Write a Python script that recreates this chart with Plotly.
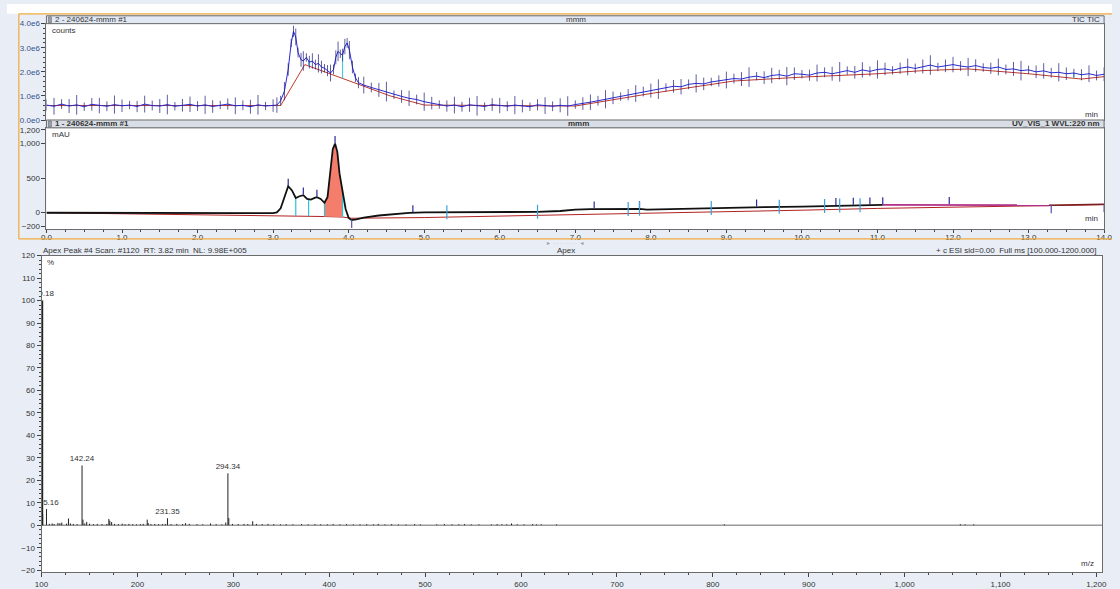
import numpy as np
import plotly.graph_objects as go

# ---------------- TIC trace (counts, x1e6) ----------------
tic_times_a = [round(0.1 * i, 2) for i in range(31)]            # 0.0 .. 3.0
tic_vals_a = [0.62, 0.57, 0.66, 0.58, 0.63, 0.55, 0.65, 0.60, 0.57, 0.64, 0.59,
              0.62, 0.56, 0.66, 0.60, 0.58, 0.64, 0.57, 0.61, 0.65, 0.58, 0.63,
              0.56, 0.62, 0.66, 0.59, 0.61, 0.55, 0.63, 0.58, 0.60]
tic_times_b = [3.05, 3.10, 3.15, 3.20, 3.24, 3.27, 3.30, 3.33, 3.37, 3.40, 3.44,
               3.48, 3.52, 3.56, 3.60, 3.64, 3.68, 3.72, 3.76, 3.80, 3.83, 3.86,
               3.89, 3.92, 3.95, 3.98, 4.01, 4.05, 4.09, 4.13]
tic_vals_b = [0.62, 0.80, 1.20, 2.10, 3.20, 3.68, 3.45, 2.80, 2.50, 2.45, 2.60,
              2.40, 2.45, 2.30, 2.35, 2.20, 2.15, 2.05, 1.95, 2.10, 2.60, 2.85,
              2.75, 2.70, 3.05, 3.20, 2.90, 2.20, 1.75, 1.55]
tic_times_c = [round(4.2 + 0.1 * i, 2) for i in range(99)]       # 4.2 .. 14.0
tic_vals_c = [1.45, 1.35, 1.25, 1.18, 1.05, 0.98, 0.90, 0.85, 0.76,
              0.70, 0.64, 0.58, 0.62, 0.55, 0.63, 0.59, 0.56, 0.64, 0.60,
              0.57, 0.62, 0.58, 0.55, 0.63, 0.60, 0.57, 0.61, 0.58, 0.64,
              0.68, 0.74, 0.80, 0.86, 0.92, 0.97, 1.05, 1.10, 1.18, 1.22,
              1.28, 1.35, 1.40, 1.38, 1.48, 1.52, 1.50, 1.58, 1.62, 1.66,
              1.72, 1.70, 1.78, 1.82, 1.76, 1.85, 1.88, 1.82, 1.92, 1.90,
              1.86, 1.95, 1.98, 1.92, 2.00, 2.05, 1.98, 2.08, 2.02, 2.10,
              2.12, 2.06, 2.15, 2.20, 2.14, 2.22, 2.28, 2.20, 2.25, 2.30,
              2.24, 2.20, 2.26, 2.18, 2.15, 2.20, 2.10, 2.12, 2.05, 2.08,
              2.00, 2.04, 1.96, 1.98, 1.92, 1.95, 1.88, 1.92, 1.85, 1.90]
tic_base_times = [0.0, 3.1, 3.42, 4.55, 5.0, 7.0, 8.0, 9.1, 10.0, 11.0, 11.6, 12.2, 13.0, 13.7, 14.0]
tic_base_vals = [0.60, 0.60, 2.30, 1.00, 0.62, 0.58, 1.10, 1.62, 1.78, 1.92, 2.05, 2.12, 1.92, 1.70, 1.80]
tic_split_times = [3.47, 3.92, 9.55, 13.6]

# ---------------- UV 220 nm trace (mAU) ----------------
uv_times = [0.0, 1.0, 2.0, 2.9, 3.0, 3.05, 3.1, 3.15, 3.2, 3.25, 3.3, 3.35, 3.4, 3.45,
            3.5, 3.55, 3.58, 3.63, 3.68, 3.72, 3.76, 3.79, 3.82, 3.85, 3.88, 3.92,
            3.96, 4.0, 4.04, 4.1, 4.2, 4.4, 4.6, 4.8, 5.0, 5.5, 6.0, 6.5, 6.8, 7.0,
            7.2, 7.5, 7.85, 7.95, 8.5, 9.0, 9.5, 10.0, 10.5, 11.07]
uv_vals = [-5, -10, -14, -16, -12, 0, 60, 220, 380, 320, 210, 235, 250, 195,
           185, 210, 220, 195, 140, 220, 600, 920, 1000, 880, 560, 270,
           50, -80, -110, -100, -75, -45, -22, -8, 0, 2, 5, 8, 20, 40,
           48, 50, 52, 40, 55, 68, 78, 85, 100, 110]
uv_tail_times = [11.07, 12.0, 13.27]
uv_tail_vals = [110, 112, 104]
uv_end_times = [13.27, 14.0]
uv_end_vals = [104, 118]
uv_base_times = [0, 1, 2, 3, 3.68, 3.92, 4.04, 5, 6, 7, 8, 9, 10, 11, 12, 13, 14]
uv_base_vals = [-5, -18, -32, -48, -60, -68, -85, -75, -55, -32, -12, 8, 32, 58, 76, 95, 112]
uv_split_times = [3.3, 3.47, 3.68, 3.92]
uv_area = (3.68, 3.92)
uv_apex_times = [3.2, 3.4, 3.58, 3.82, 4.85, 7.25, 7.85, 9.4, 10.45, 10.68, 10.9, 11.07, 11.95]
uv_cross_times = [5.3, 6.5, 7.7, 7.85, 8.8, 9.7, 10.3, 10.5, 10.77]
uv_low_times = [4.04, 13.3, 14.0]

# ---------------- Mass spectrum at apex of peak #4 ----------------
ms_mz = [100.18, 101.2, 105.16, 108.1, 111.1, 113.1, 117.1, 119.1, 121.1, 126.1,
         128.1, 130.1, 133.1, 137.1, 142.24, 143.2, 145.1, 147.1, 150.1, 154.1,
         158.1, 163.1, 168.1, 170.2, 171.2, 173.1, 176.1, 180.1, 184.1, 187.1,
         191.1, 195.1, 199.1, 203.1, 206.1, 210.2, 211.2, 214.1, 218.1, 222.1,
         226.1, 229.1, 231.35, 235.1, 241.1, 247.1, 250.2, 254.1, 262.1, 268.1,
         276.2, 282.1, 288.1, 292.1, 294.34, 295.3, 299.1, 305.1, 311.1, 315.1,
         320.2, 324.1, 330.1, 336.1, 342.1, 349.1, 355.1, 362.1, 371.1, 378.1,
         385.1, 391.1, 398.1, 404.1, 411.1, 418.1, 425.1, 432.1, 439.1, 446.1,
         451.1, 458.1, 465.1, 472.1, 480.1, 489.1, 495.1, 512.1, 520.1, 528.1,
         535.1, 541.1, 548.1, 556.1, 569.1, 575.1, 580.1, 585.1, 590.1, 596.1,
         603.1, 612.1, 616.1, 621.1, 637.1, 812.1, 1058.1, 1063.1, 1072.1]
ms_int = [100.0, 5.0, 7.2, 0.6, 0.8, 0.5, 1.0, 0.9, 1.2, 0.7,
          3.0, 0.8, 0.6, 0.5, 26.6, 2.5, 0.8, 1.5, 0.7, 0.5,
          0.6, 0.5, 0.6, 2.8, 2.0, 1.4, 0.6, 0.5, 0.7, 0.5,
          0.6, 0.5, 0.4, 0.5, 0.6, 2.5, 1.0, 0.5, 0.6, 0.5,
          0.5, 0.6, 3.1, 0.5, 0.6, 0.5, 0.9, 0.6, 0.5, 0.4,
          0.8, 0.5, 0.4, 1.2, 23.1, 3.2, 0.6, 0.5, 0.6, 0.5,
          1.8, 0.6, 0.5, 0.6, 0.5, 0.4, 0.5, 0.4, 0.5, 0.4,
          0.5, 0.4, 0.4, 0.5, 0.4, 0.5, 0.4, 0.4, 0.5, 0.4,
          0.6, 0.4, 0.5, 0.4, 0.4, 0.5, 0.4, 0.4, 0.5, 0.4,
          0.4, 0.5, 0.4, 0.4, 0.4, 0.5, 0.4, 0.4, 0.8, 0.4,
          0.4, 0.5, 0.4, 0.4, 0.4, 0.4, 0.5, 0.4, 0.4]
ms_labels = ["100.18", "105.16", "142.24", "231.35", "294.34"]

# ---------------- geometry helpers (pixel -> paper) ----------------
W, H = 1120, 589
def px(x):
    return x / W
def py(y):
    return 1 - y / H

FONT = "Arial"
TXT = "#333333"
BG = "#e9eef6"
ORANGE = "#f0aa3c"
BORDER = "#6b6b6b"

tic_t = tic_times_a + tic_times_b + tic_times_c
tic_v = [v * 1e6 for v in tic_vals_a + tic_vals_b + tic_vals_c]
tic_base = [v * 1e6 for v in tic_base_vals]
# scan-marker lengths cycle through a fixed pattern so the comb looks uneven
tick_pattern = [8, 12, 7, 10, 14, 6, 9, 11, 7, 13, 9, 6]
tic_tick_sizes = [tick_pattern[i % len(tick_pattern)] for i in range(len(tic_t))]

fig = go.Figure()

# ---- TIC panel ----
fig.add_trace(go.Scatter(x=tic_base_times, y=tic_base, mode="lines",
                         line=dict(color="#c0392b", width=1), xaxis="x", yaxis="y",
                         hoverinfo="skip"))
sx, sy = [], []
for t in tic_split_times:
    sx += [t, t, None]
    sy += [np.interp(t, tic_base_times, tic_base), np.interp(t, tic_t, tic_v), None]
fig.add_trace(go.Scatter(x=sx, y=sy, mode="lines", line=dict(color="#30c8d8", width=1),
                         xaxis="x", yaxis="y", hoverinfo="skip"))
fig.add_trace(go.Scatter(x=tic_t, y=tic_v, mode="lines+markers",
                         line=dict(color="#2a2ad6", width=1),
                         marker=dict(symbol="line-ns", size=tic_tick_sizes,
                                     line=dict(color="#1c1c7a", width=1)),
                         xaxis="x", yaxis="y"))

# ---- UV panel ----
fig.add_trace(go.Scatter(x=uv_base_times, y=uv_base_vals, mode="lines",
                         line=dict(color="#b22222", width=1), xaxis="x2", yaxis="y2",
                         hoverinfo="skip"))
# integrated area of the main peak
a0, a1 = uv_area
fine = np.linspace(a0, a1, 60)
area_top = np.interp(fine, uv_times, uv_vals)
area_bot = np.interp(fine, uv_base_times, uv_base_vals)
fig.add_trace(go.Scatter(x=list(fine) + list(fine[::-1]),
                         y=list(area_top) + list(area_bot[::-1]),
                         mode="lines", fill="toself", fillcolor="#f47d6b",
                         line=dict(width=0), xaxis="x2", yaxis="y2", hoverinfo="skip"))
sx, sy = [], []
for t in uv_split_times:
    sx += [t, t, None]
    sy += [np.interp(t, uv_base_times, uv_base_vals), np.interp(t, uv_times, uv_vals), None]
fig.add_trace(go.Scatter(x=sx, y=sy, mode="lines", line=dict(color="#2ec4d4", width=1.2),
                         xaxis="x2", yaxis="y2", hoverinfo="skip"))
fig.add_trace(go.Scatter(x=uv_times, y=uv_vals, mode="lines",
                         line=dict(color="#111111", width=1.8), xaxis="x2", yaxis="y2"))
fig.add_trace(go.Scatter(x=uv_tail_times, y=uv_tail_vals, mode="lines",
                         line=dict(color="#b0308a", width=1.8), xaxis="x2", yaxis="y2"))
fig.add_trace(go.Scatter(x=uv_end_times, y=uv_end_vals, mode="lines",
                         line=dict(color="#7a1f1f", width=1.5), xaxis="x2", yaxis="y2"))

def uv_at(t):
    all_t = uv_times + uv_tail_times[1:] + uv_end_times[1:]
    all_v = uv_vals + uv_tail_vals[1:] + uv_end_vals[1:]
    return float(np.interp(t, all_t, all_v))

fig.add_trace(go.Scatter(x=uv_apex_times, y=[uv_at(t) + 60 for t in uv_apex_times],
                         mode="markers",
                         marker=dict(symbol="line-ns", size=5, line=dict(color="#2a2a9a", width=1.2)),
                         xaxis="x2", yaxis="y2", hoverinfo="skip"))
fig.add_trace(go.Scatter(x=uv_cross_times, y=[uv_at(t) for t in uv_cross_times],
                         mode="markers",
                         marker=dict(symbol="line-ns", size=10, line=dict(color="#3aa0d8", width=1.2)),
                         xaxis="x2", yaxis="y2", hoverinfo="skip"))
fig.add_trace(go.Scatter(x=uv_low_times, y=[uv_at(t) - 55 for t in uv_low_times],
                         mode="markers",
                         marker=dict(symbol="line-ns", size=6, line=dict(color="#5050b0", width=1.2)),
                         xaxis="x2", yaxis="y2", hoverinfo="skip"))

# ---- Mass spectrum panel ----
fig.add_trace(go.Scatter(x=[100, 1206], y=[0, 0], mode="lines",
                         line=dict(color="#9a9a9a", width=1.6), xaxis="x3", yaxis="y3",
                         hoverinfo="skip"))
mx, my = [], []
for m, i in zip(ms_mz, ms_int):
    mx += [m, m, None]
    my += [0, i, None]
fig.add_trace(go.Scatter(x=mx, y=my, mode="lines", line=dict(color="#222222", width=1),
                         xaxis="x3", yaxis="y3"))
# base peak drawn heavier, as the data system does
base_i = int(np.argmax(ms_int))
fig.add_trace(go.Scatter(x=[ms_mz[base_i], ms_mz[base_i]], y=[0, ms_int[base_i]], mode="lines",
                         line=dict(color="#222222", width=3), xaxis="x3", yaxis="y3",
                         cliponaxis=False, hoverinfo="skip"))
lab_x = [float(s) for s in ms_labels]
lab_y = [ms_int[ms_mz.index(v)] + 1.0 for v in lab_x]
fig.add_trace(go.Scatter(x=lab_x, y=lab_y, mode="text", text=ms_labels,
                         textposition="top center",
                         textfont=dict(family=FONT, size=8, color=TXT),
                         xaxis="x3", yaxis="y3", hoverinfo="skip"))

# ---------------- axes ----------------
tickfont = dict(family=FONT, size=8, color=TXT)
common = dict(showline=True, linecolor=BORDER, linewidth=1, mirror=True,
              showgrid=False, zeroline=False, ticks="outside", ticklen=4,
              tickcolor="#444", tickfont=tickfont)

fig.update_layout(
    xaxis=dict(domain=[px(40), px(1112)], range=[0, 14], showticklabels=False,
               ticks="", anchor="y", **{k: v for k, v in common.items() if k not in ("ticks",)}),
    yaxis=dict(domain=[py(118), py(20)], range=[0, 4e6], anchor="x",
               tickvals=[0, 1e6, 2e6, 3e6, 4e6],
               ticktext=["0.0e0", "1.0e6", "2.0e6", "3.0e6", "4.0e6"],
               minor=dict(dtick=2e5, ticks="outside", ticklen=2, tickcolor="#444"),
               **{**common, "tickfont": dict(family=FONT, size=8, color="#34508c")}),
    xaxis2=dict(domain=[px(40), px(1112)], range=[0, 14], anchor="y2",
                tickvals=list(range(15)), tickformat=".1f", ticklabelstandoff=-3,
                minor=dict(dtick=0.25, ticks="outside", ticklen=2, tickcolor="#444"),
                **{**common, "ticklen": 3}),
    yaxis2=dict(domain=[py(229), py(126)], range=[-243, 1229], anchor="x2",
                tickvals=[-200, 0, 500, 1000, 1200], tickformat=",", **common),
    xaxis3=dict(domain=[px(35), px(1110)], range=[100, 1206], anchor="y3",
                tickvals=list(range(100, 1201, 100)), tickformat=",",
                minor=dict(dtick=25, ticks="outside", ticklen=2, tickcolor="#444"),
                **common),
    yaxis3=dict(domain=[py(578), py(256)], range=[-20.9, 120], anchor="x3",
                dtick=10, minor=dict(dtick=2, ticks="outside", ticklen=2, tickcolor="#444"),
                **common),
)

# ---------------- frame, header bars and labels ----------------
shapes = [
    dict(type="rect", xref="paper", yref="paper", x0=0, x1=1, y0=py(10), y1=1,
         fillcolor="white", line=dict(width=0), layer="below"),
    dict(type="line", xref="paper", yref="paper", x0=px(12), x1=1, y0=py(10), y1=py(10),
         line=dict(color=ORANGE, width=1.2)),
    dict(type="line", xref="paper", yref="paper", x0=px(12), x1=px(12), y0=py(239), y1=py(10),
         line=dict(color=ORANGE, width=1.2)),
    dict(type="line", xref="paper", yref="paper", x0=px(12), x1=1, y0=py(239), y1=py(239),
         line=dict(color=ORANGE, width=1.2)),
    # header bar of TIC panel
    dict(type="rect", xref="paper", yref="paper", x0=px(40), x1=px(1112), y0=py(20), y1=py(12),
         fillcolor="#e2e9f4", line=dict(color=BORDER, width=1)),
    # header bar of UV panel
    dict(type="rect", xref="paper", yref="paper", x0=px(40), x1=px(1112), y0=py(126), y1=py(118),
         fillcolor="#d9dee6", line=dict(color=BORDER, width=1)),
    # small pin icons at the left of each header
    dict(type="rect", xref="paper", yref="paper", x0=px(42), x1=px(45), y0=py(19), y1=py(13),
         fillcolor="#9aa3ad", line=dict(color="#555", width=0.5)),
    dict(type="rect", xref="paper", yref="paper", x0=px(42), x1=px(45), y0=py(125), y1=py(119),
         fillcolor="#9aa3ad", line=dict(color="#555", width=0.5)),
]
fig.update_layout(shapes=shapes)

def note(x, y, text, anchor="left", size=8, bold=False, color=TXT):
    if bold:
        text = "<b>" + text + "</b>"
    fig.add_annotation(x=px(x), y=py(y), xref="paper", yref="paper", text=text,
                       showarrow=False, xanchor=anchor, yanchor="middle",
                       font=dict(family=FONT, size=size, color=color))

note(47, 16, "2 - 240624-mmm #1")
note(577, 16, "mmm", anchor="center")
note(1110, 16, "TIC TIC", anchor="right")
note(44, 27, "counts")
note(1108, 112, "min", anchor="right")

note(47, 122, "1 - 240624-mmm #1", bold=True)
note(579, 122, "mmm", anchor="center", bold=True)
note(1110, 122, "UV_VIS_1 WVL:220 nm", anchor="right", bold=True)
note(44, 133, "mAU")
note(1108, 218, "min", anchor="right")

note(566, 243, "►  · · · · · · · ·  ◄", anchor="center", size=5, color="#9a9a9a")

note(34, 251, "Apex Peak #4 Scan: #1120  RT: 3.82 min  NL: 9.98E+005")
note(567, 251, "Apex", anchor="center")
note(1107, 251, "+ c ESI sid=0.00  Full ms [100.000-1200.000]", anchor="right")
note(39, 263, "%")
note(1104, 569, "m/z", anchor="right")

fig.update_layout(
    width=W, height=H, margin=dict(l=0, r=0, t=0, b=0),
    paper_bgcolor=BG, plot_bgcolor="white", showlegend=False,
    font=dict(family=FONT, size=8, color=TXT),
)

fig.write_html("out.html")
